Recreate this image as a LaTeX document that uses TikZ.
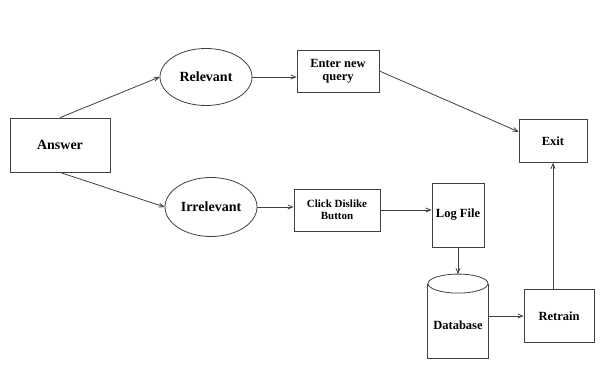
\documentclass[tikz,border=0pt]{standalone}
\usepackage{fontspec}
\setmainfont{Liberation Serif}
\usepackage{tikz}
\usetikzlibrary{shapes,arrows,positioning}

\begin{document}
\begin{tikzpicture}[->,>=angle 45,thick,draw=black!75,node distance=130pt]
  \tikzstyle{box}=[rectangle,draw=black!75,inner sep=2pt,align=center,font=\bfseries]
  \tikzstyle{oval}=[ellipse,draw=black!75,inner sep=0pt,font=\bfseries\fontsize{14}{16}\selectfont]
  \tikzstyle{big}=[font=\bfseries\fontsize{14}{16}\selectfont]
  \tikzstyle{mid}=[font=\bfseries\fontsize{12.5}{14}\selectfont]

  \useasboundingbox[-] (0,0) rectangle (610pt,378pt);

  \node[box,big,minimum width=100pt,minimum height=54pt] (answer) at (60pt,233pt) {Answer};
  \node[oval,minimum width=92pt,minimum height=57pt]  (relevant)   [right of=answer,node distance=146pt,yshift=68pt]  {Relevant};
  \node[oval,minimum width=92pt,minimum height=59pt]  (irrelevant) [right of=answer,node distance=151pt,yshift=-62pt] {Irrelevant};
  \node[box,font=\bfseries\fontsize{12.5}{13}\selectfont,minimum width=82pt,minimum height=42pt]
        (enter) [right of=relevant,node distance=132pt,yshift=6pt] {Enter new\\query};
  \node[box,font=\bfseries\fontsize{11}{12}\selectfont,minimum width=86pt,minimum height=42pt]
        (click) [right of=irrelevant,node distance=126pt,yshift=-3pt] {Click Dislike\\Button};
  \node[box,mid,minimum width=52pt,minimum height=64pt] (logfile)  [right of=click,node distance=121pt,yshift=-5pt] {Log File};
  % database: plain node, outline drawn below
  \node[box,draw=none,mid,text height=27pt,text depth=0pt,minimum width=60pt,minimum height=83pt]
        (database) [below of=logfile,node distance=101pt] {Database};
  \node[box,mid,minimum width=70pt,minimum height=53pt] (retrain)  [right of=database,node distance=101pt] {Retrain};
  \node[box,mid,minimum width=68pt,minimum height=43pt] (exit)     [above of=retrain,node distance=175pt,xshift=-6pt] {Exit};

  \draw[-] ([yshift=-9.5pt]database.north west) -- (database.south west)
        -- (database.south east) -- ([yshift=-9.5pt]database.north east);
  \draw[-] ([yshift=-9.5pt]database.north) ellipse (30pt and 9.5pt);

  \path (answer.north) edge (relevant.west)
        (answer.south) edge (irrelevant.west)
        (relevant.east) edge (relevant.east -| enter.west)
        (enter.east) edge (exit.165)
        (irrelevant.east) edge (irrelevant.east -| click.west)
        (click.east) edge (click.east -| logfile.west)
        (logfile.south) edge (database.north)
        (database.east) edge (database.east -| retrain.west)
        (retrain.north -| exit.south) edge (exit.south);
\end{tikzpicture}
\end{document}
